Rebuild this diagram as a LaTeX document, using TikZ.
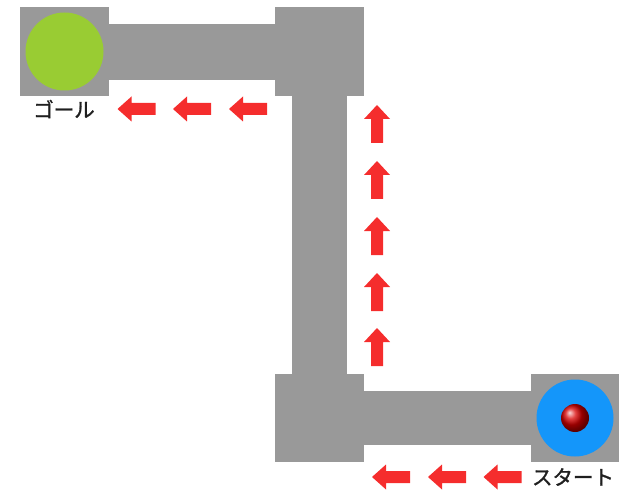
\documentclass[tikz,border=0pt]{standalone}
\usepackage{fontspec}
\newfontfamily\jp[FakeBold=1.3]{Noto Sans CJK JP}
\definecolor{road}{RGB}{153,153,153}
\definecolor{goalgreen}{RGB}{153,204,51}
\definecolor{startblue}{RGB}{20,150,250}
\definecolor{arrowred}{RGB}{245,45,45}
\tikzset{
  roadpart/.style={fill=road, draw=none},
  label text/.style={font=\jp\fontsize{20.5}{20.5}\selectfont, text=black!88, inner sep=0pt},
  larrow/.pic={\fill[arrowred] (-19,0) -- (-5,-12.5) -- (-5,-6) -- (19,-6) -- (19,6) -- (-5,6) -- (-5,12.5) -- cycle;},
  uarrow/.pic={\fill[arrowred] (0,-19) -- (-13,-5) -- (-6,-5) -- (-6,19) -- (6,19) -- (6,-5) -- (13,-5) -- cycle;}
}
\begin{document}
\begin{tikzpicture}[x=1pt,y=-1pt]
\useasboundingbox (0,0) rectangle (619,492);
% road
\fill[roadpart] (20,7) rectangle (109,96);
\fill[roadpart] (108,24) rectangle (276,80);
\fill[roadpart] (275,7) rectangle (364,96);
\fill[roadpart] (292,95) rectangle (347,375);
\fill[roadpart] (275,374) rectangle (364,462);
\fill[roadpart] (363,391) rectangle (532,445);
\fill[roadpart] (531,374) rectangle (619,462);
% goal and start
\node[circle, fill=goalgreen, minimum size=78pt, inner sep=0pt] (goal) at (64.5,51.5) {};
\node[circle, fill=startblue, minimum size=77pt, inner sep=0pt] (start) at (575,418) {};
\node[circle, ball color=red!85!black, minimum size=28pt, inner sep=0pt] (ball) at (575,418) {};
% labels
\node[label text] (goallabel) at (64,109) {ゴール};
\node[label text] (startlabel) at (573,477) {スタート};
% arrows
\pic at (136.5,109) {larrow};
\pic at (192,109) {larrow};
\pic at (248,109) {larrow};
\pic at (377,124) {uarrow};
\pic at (377,180) {uarrow};
\pic at (377,236) {uarrow};
\pic at (377,292) {uarrow};
\pic at (377,347) {uarrow};
\pic at (391,477) {larrow};
\pic at (447,477) {larrow};
\pic at (502.5,477) {larrow};
\end{tikzpicture}
\end{document}
